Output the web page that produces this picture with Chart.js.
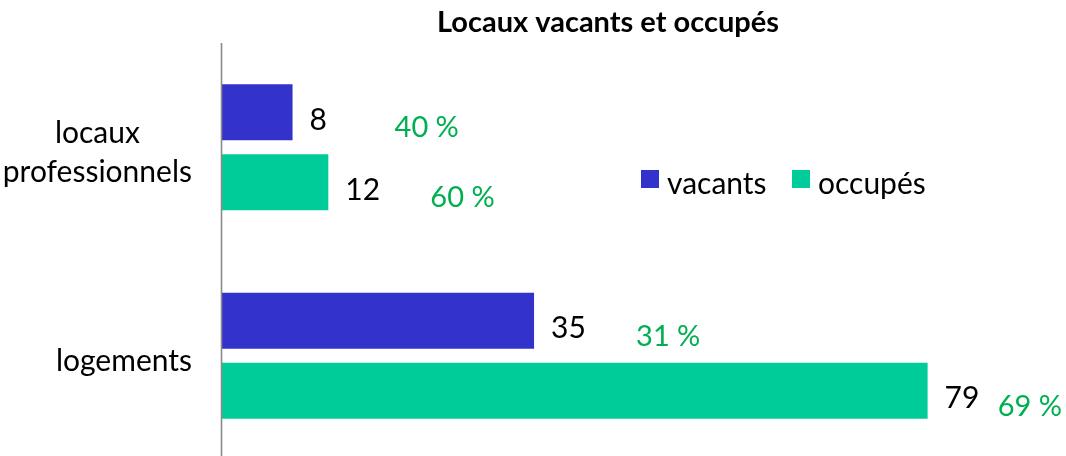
<!DOCTYPE html>
<html>
<head>
<meta charset="utf-8">
<script src="https://cdn.jsdelivr.net/npm/chart.js@4"></script>
<style>
  html, body { margin: 0; padding: 0; background: #fff; overflow: hidden; }
  #wrap { position: relative; width: 1066px; height: 460px; }
</style>
</head>
<body>
<div id="wrap"><canvas id="c"></canvas></div>
<script>
// ---- data ----
const categories = [["locaux", "professionnels"], "logements"];
const seriesNames = ["vacants", "occupés"];
const vacants = [8, 35];
const occupes = [12, 79];
const pctVacants = [40, 31];
const pctOccupes = [60, 69];
const chartTitle = "Locaux vacants et occupés";

const FONT = "Lato, 'Liberation Sans', sans-serif";
const BLUE = "#3333CC";
const GREEN = "#00CC99";
const PCT_GREEN = "#00B050";

const labelsPlugin = {
  id: "customLabels",
  afterDraw(chart) {
    const ctx = chart.ctx;
    const area = chart.chartArea;
    const yScale = chart.scales.y;
    ctx.save();

    // axis line
    ctx.strokeStyle = "#8a8a8a";
    ctx.lineWidth = 1.6;
    ctx.beginPath();
    ctx.moveTo(area.left + 0.5, area.top);
    ctx.lineTo(area.left + 0.5, area.bottom);
    ctx.stroke();

    // title
    ctx.fillStyle = "#000";
    ctx.font = "bold 29px " + FONT;
    ctx.textAlign = "center";
    ctx.textBaseline = "alphabetic";
    ctx.fillText(chartTitle, 608, 32);

    // category labels
    ctx.font = "30px " + FONT;
    ctx.textAlign = "center";
    categories.forEach((lab, i) => {
      const lines = Array.isArray(lab) ? lab : [lab];
      const w = Math.max(...lines.map(l => ctx.measureText(l).width));
      const cx = area.left - 29 - w / 2;
      const cy = yScale.getPixelForValue(i);
      lines.forEach((l, j) => {
        const by = cy + 15 + (j - (lines.length - 1) / 2) * 39;
        ctx.fillText(l, cx, by);
      });
    });

    // value labels + percentages
    const pcts = [pctVacants, pctOccupes];
    chart.data.datasets.forEach((ds, di) => {
      const meta = chart.getDatasetMeta(di);
      meta.data.forEach((bar, i) => {
        ctx.font = "30px " + FONT;
        ctx.textAlign = "left";
        ctx.fillStyle = "#000";
        ctx.fillText(String(ds.data[i]), bar.x + 17, bar.y + 17.5);
        const t = pcts[di][i] + " %";
        ctx.font = "29px " + FONT;
        ctx.fillStyle = PCT_GREEN;
        const tw = ctx.measureText(t).width;
        let px = bar.x + 102;
        if (px + tw > chart.width - 4) px = chart.width - 4 - tw;
        ctx.fillText(t, px, bar.y + 25);
      });
    });

    // legend
    const legendItems = [
      { x: 641, color: BLUE, text: seriesNames[0] },
      { x: 792, color: GREEN, text: seriesNames[1] }
    ];
    ctx.font = "30px " + FONT;
    ctx.textAlign = "left";
    legendItems.forEach(it => {
      ctx.fillStyle = it.color;
      ctx.fillRect(it.x, 170, 18, 18);
      ctx.fillStyle = "#000";
      ctx.fillText(it.text, it.x + 26, 194);
    });

    ctx.restore();
  }
};

new Chart(document.getElementById("c"), {
  type: "bar",
  data: {
    labels: categories,
    datasets: [
      { label: seriesNames[0], data: vacants, backgroundColor: BLUE, barPercentage: 0.8, categoryPercentage: 0.6715 },
      { label: seriesNames[1], data: occupes, backgroundColor: GREEN, barPercentage: 0.8, categoryPercentage: 0.6715 }
    ]
  },
  options: {
    indexAxis: "y",
    responsive: true,
    maintainAspectRatio: false,
    animation: false,
    layout: { padding: { top: 43, right: 40, bottom: 0, left: 0 } },
    plugins: {
      legend: { display: false },
      title: { display: false },
      tooltip: { enabled: false }
    },
    scales: {
      x: { display: false, min: 0, max: 90 },
      y: {
        grid: { display: false },
        border: { display: false },
        ticks: { display: false },
        afterFit(scale) { scale.width = 221; }
      }
    }
  },
  plugins: [labelsPlugin]
});
</script>
</body>
</html>
